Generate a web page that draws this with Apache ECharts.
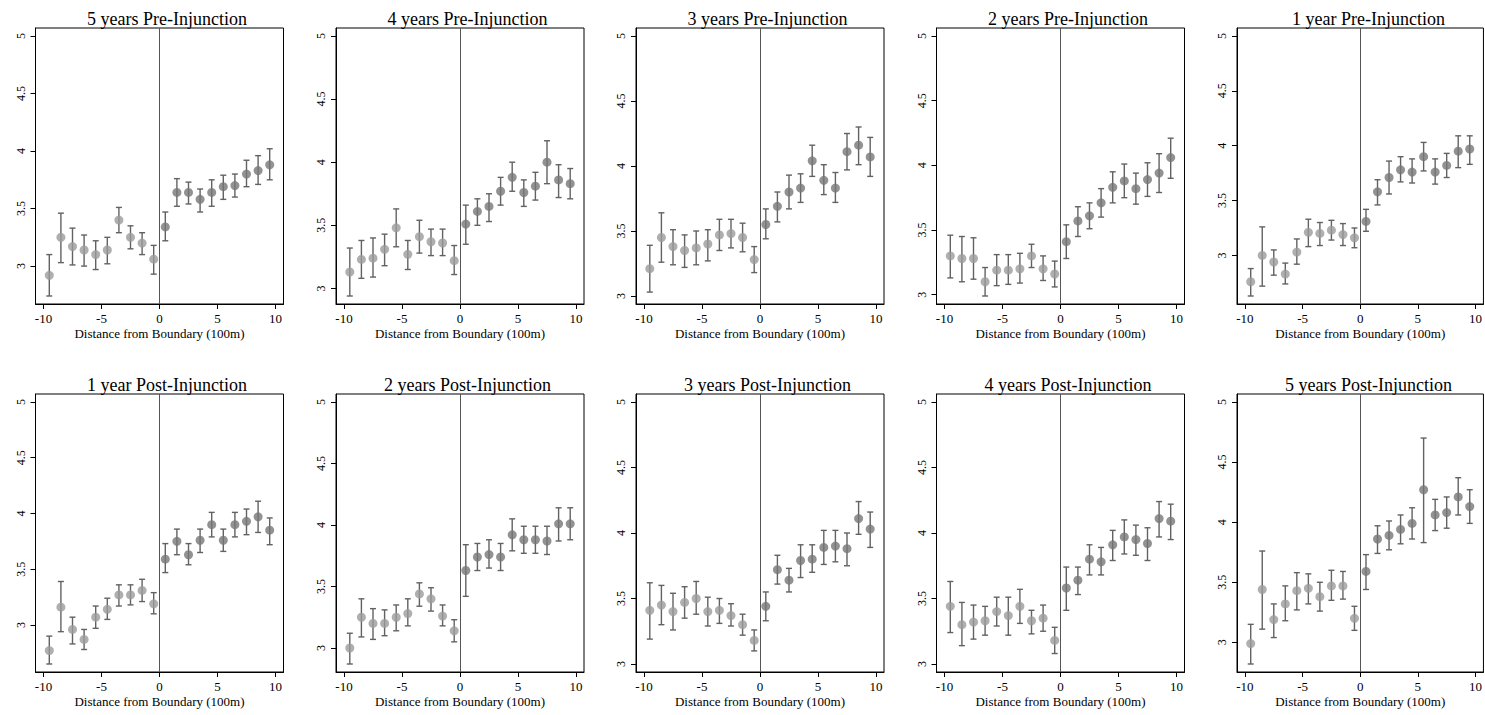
<!DOCTYPE html>
<html>
<head>
<meta charset="utf-8">
<script src="https://cdn.jsdelivr.net/npm/echarts@6/dist/echarts.min.js"></script>
<style>
html,body{margin:0;padding:0;background:#fff;}
#chart{width:1485px;height:715px;}
</style>
</head>
<body>
<div id="chart"></div>
<script>
// ---------- DATA ----------
const distance = [-9.5,-8.5,-7.5,-6.5,-5.5,-4.5,-3.5,-2.5,-1.5,-0.5,0.5,1.5,2.5,3.5,4.5,5.5,6.5,7.5,8.5,9.5];
const xTicks = [-10,-5,0,5,10];
const yTicks = [3,3.5,4,4.5,5];
const panelTitles = ["5 years Pre-Injunction","4 years Pre-Injunction","3 years Pre-Injunction","2 years Pre-Injunction","1 year Pre-Injunction",
  "1 year Post-Injunction","2 years Post-Injunction","3 years Post-Injunction","4 years Post-Injunction","5 years Post-Injunction"];
const xAxisTitle = "Distance from Boundary (100m)";

const pre5Mean = [2.92,3.25,3.17,3.14,3.10,3.14,3.40,3.25,3.20,3.06,3.34,3.64,3.64,3.58,3.64,3.69,3.70,3.80,3.83,3.88];
const pre5Low  = [2.74,3.03,3.01,3.00,2.97,3.02,3.29,3.15,3.10,2.93,3.22,3.52,3.54,3.47,3.52,3.58,3.60,3.69,3.71,3.75];
const pre5High = [3.10,3.46,3.33,3.27,3.22,3.25,3.51,3.35,3.29,3.18,3.47,3.76,3.73,3.67,3.75,3.79,3.80,3.92,3.96,4.02];

const pre4Mean = [3.13,3.23,3.24,3.31,3.48,3.27,3.41,3.37,3.36,3.22,3.51,3.61,3.65,3.77,3.88,3.76,3.81,4.00,3.86,3.83];
const pre4Low  = [2.94,3.08,3.09,3.18,3.33,3.15,3.28,3.26,3.26,3.11,3.35,3.50,3.53,3.66,3.77,3.65,3.70,3.83,3.72,3.71];
const pre4High = [3.32,3.38,3.40,3.43,3.63,3.38,3.54,3.47,3.47,3.34,3.66,3.71,3.75,3.88,4.00,3.86,3.92,4.17,3.98,3.95];

const pre3Mean = [3.21,3.45,3.38,3.35,3.37,3.40,3.47,3.48,3.45,3.28,3.55,3.69,3.80,3.83,4.04,3.89,3.83,4.11,4.16,4.07];
const pre3Low  = [3.03,3.26,3.24,3.22,3.24,3.27,3.35,3.37,3.34,3.18,3.44,3.57,3.67,3.72,3.92,3.78,3.72,3.97,4.01,3.92];
const pre3High = [3.39,3.64,3.51,3.47,3.50,3.51,3.59,3.59,3.56,3.38,3.67,3.80,3.93,3.94,4.16,4.01,3.95,4.25,4.30,4.22];

const pre2Mean = [3.30,3.28,3.28,3.10,3.19,3.19,3.20,3.30,3.20,3.16,3.41,3.57,3.61,3.71,3.83,3.88,3.82,3.89,3.94,4.06];
const pre2Low  = [3.13,3.10,3.12,2.99,3.07,3.08,3.09,3.21,3.11,3.06,3.28,3.45,3.51,3.60,3.71,3.75,3.70,3.76,3.79,3.90];
const pre2High = [3.46,3.45,3.44,3.21,3.31,3.31,3.32,3.39,3.30,3.26,3.54,3.68,3.71,3.82,3.95,4.01,3.94,4.02,4.09,4.21];

const pre1Mean = [2.76,3.00,2.94,2.83,3.03,3.21,3.20,3.23,3.19,3.16,3.31,3.58,3.71,3.78,3.76,3.90,3.76,3.82,3.95,3.97];
const pre1Low  = [2.63,2.72,2.82,2.74,2.92,3.08,3.09,3.14,3.09,3.07,3.22,3.46,3.56,3.67,3.66,3.77,3.65,3.71,3.80,3.83];
const pre1High = [2.88,3.26,3.05,2.93,3.15,3.33,3.30,3.32,3.29,3.25,3.42,3.69,3.86,3.90,3.88,4.03,3.88,3.93,4.09,4.09];

const post1Mean = [2.77,3.16,2.96,2.87,3.07,3.14,3.27,3.27,3.31,3.19,3.59,3.75,3.63,3.76,3.90,3.76,3.90,3.93,3.97,3.85];
const post1Low  = [2.65,2.94,2.83,2.78,2.97,3.05,3.17,3.18,3.21,3.10,3.47,3.63,3.54,3.65,3.79,3.66,3.79,3.81,3.83,3.72];
const post1High = [2.90,3.39,3.07,2.96,3.17,3.24,3.36,3.36,3.41,3.29,3.73,3.86,3.73,3.86,4.01,3.86,4.01,4.04,4.11,3.96];

const post2Mean = [3.00,3.25,3.20,3.20,3.25,3.28,3.44,3.40,3.26,3.14,3.63,3.74,3.76,3.74,3.92,3.88,3.88,3.87,4.01,4.01];
const post2Low  = [2.87,3.09,3.07,3.10,3.14,3.18,3.34,3.30,3.18,3.05,3.42,3.63,3.65,3.63,3.79,3.77,3.77,3.76,3.87,3.88];
const post2High = [3.12,3.40,3.32,3.31,3.35,3.40,3.53,3.49,3.35,3.23,3.84,3.85,3.88,3.85,4.05,3.99,3.99,3.99,4.14,4.14];

const post3Mean = [3.41,3.45,3.40,3.47,3.50,3.40,3.41,3.37,3.30,3.18,3.44,3.72,3.64,3.79,3.80,3.89,3.90,3.88,4.11,4.03];
const post3Low  = [3.19,3.30,3.26,3.35,3.38,3.29,3.31,3.29,3.22,3.10,3.33,3.61,3.55,3.66,3.70,3.76,3.78,3.75,3.99,3.89];
const post3High = [3.62,3.60,3.54,3.59,3.63,3.51,3.50,3.46,3.38,3.26,3.55,3.83,3.73,3.91,3.91,4.02,4.02,4.00,4.24,4.16];

const post4Mean = [3.44,3.30,3.32,3.33,3.40,3.37,3.44,3.33,3.35,3.18,3.58,3.64,3.80,3.78,3.91,3.97,3.95,3.92,4.11,4.09];
const post4Low  = [3.24,3.14,3.19,3.22,3.29,3.22,3.31,3.23,3.25,3.08,3.41,3.53,3.68,3.68,3.79,3.84,3.83,3.79,3.97,3.95];
const post4High = [3.63,3.47,3.45,3.44,3.51,3.51,3.57,3.41,3.45,3.28,3.74,3.74,3.91,3.89,4.02,4.10,4.06,4.04,4.24,4.22];

const post5Mean = [2.99,3.44,3.19,3.32,3.43,3.45,3.38,3.47,3.47,3.20,3.59,3.86,3.89,3.94,3.99,4.27,4.06,4.08,4.21,4.13];
const post5Low  = [2.82,3.11,3.04,3.18,3.27,3.32,3.26,3.35,3.36,3.10,3.44,3.74,3.77,3.82,3.86,3.83,3.93,3.95,4.06,3.99];
const post5High = [3.15,3.76,3.32,3.47,3.58,3.57,3.50,3.60,3.59,3.30,3.73,3.97,4.01,4.06,4.12,4.70,4.19,4.21,4.37,4.27];

// ---------- LAYOUT ----------
const panels = [
  [pre5Mean, pre5Low, pre5High], [pre4Mean, pre4Low, pre4High], [pre3Mean, pre3Low, pre3High],
  [pre2Mean, pre2Low, pre2High], [pre1Mean, pre1Low, pre1High],
  [post1Mean, post1Low, post1High], [post2Mean, post2Low, post2High], [post3Mean, post3Low, post3High],
  [post4Mean, post4Low, post4High], [post5Mean, post5Low, post5High]
];
const colLeft = [35.5, 336, 636, 936.5, 1237];
const gridW = 248;
const rowTop = [28, 394];
const rowH = [276, 278];
const PAD = 8; // plot region margin, px

const FONT = "'Liberation Serif', 'Times New Roman', serif";
const leftDot = '#9b9b9b', rightDot = '#777777', barColor = '#626262';

const grids = [], xAxes = [], yAxes = [], series = [], titles = [];

panels.forEach((p, i) => {
  const [mean, low, high] = p;
  const row = Math.floor(i / 5), col = i % 5;
  const left = colLeft[col], top = rowTop[row], h = rowH[row];
  grids.push({left: left, top: top, width: gridW, height: h, show: true,
    borderColor: '#000', borderWidth: 1, backgroundColor: 'transparent', containLabel: false});
  // axis range: data extent plus fixed pixel margin
  const xPad = PAD * 20 / (gridW - 2 * PAD);
  const lo = Math.min(Math.min(...low), 3);
  const yPad = PAD * (5 - lo) / (h - 2 * PAD);
  xAxes.push({type: 'value', gridIndex: i, min: -10 - xPad, max: 10 + xPad,
    axisLine: {show: true, onZero: false, lineStyle: {color: '#000', width: 1}},
    axisTick: {show: true, length: 5, customValues: xTicks, lineStyle: {color: '#000'}},
    axisLabel: {show: true, customValues: xTicks, margin: 8, color: '#000', fontFamily: FONT, fontSize: 13},
    splitLine: {show: false},
    name: xAxisTitle, nameLocation: 'middle', nameGap: 23,
    nameTextStyle: {color: '#000', fontFamily: FONT, fontSize: 13}});
  yAxes.push({type: 'value', gridIndex: i, min: lo - yPad, max: 5 + yPad,
    axisLine: {show: true, onZero: false, lineStyle: {color: '#000', width: 1}},
    axisTick: {show: true, length: 5, customValues: yTicks, lineStyle: {color: '#000'}},
    axisLabel: {show: true, customValues: yTicks, rotate: 90, margin: 9, color: '#000', fontFamily: FONT, fontSize: 12},
    splitLine: {show: false}});
  titles.push({text: panelTitles[i], left: left + gridW / 2 + 2.5, top: top - 23, textAlign: 'center',
    textStyle: {fontFamily: FONT, fontSize: 18, fontWeight: 'normal', color: '#000'}});

  const bars = distance.map((d, k) => [d, low[k], high[k]]);
  series.push({type: 'custom', xAxisIndex: i, yAxisIndex: i, data: bars, encode: {x: 0, y: [1, 2]},
    silent: true, z: 2,
    renderItem: function (params, api) {
      const x = api.value(0);
      const t = api.coord([x, api.value(2)]);
      const b = api.coord([x, api.value(1)]);
      const cap = 3;
      const st = {stroke: barColor, lineWidth: 1.4, fill: null};
      return {type: 'group', children: [
        {type: 'line', shape: {x1: t[0], y1: t[1], x2: b[0], y2: b[1]}, style: st},
        {type: 'line', shape: {x1: t[0] - cap, y1: t[1], x2: t[0] + cap, y2: t[1]}, style: st},
        {type: 'line', shape: {x1: b[0] - cap, y1: b[1], x2: b[0] + cap, y2: b[1]}, style: st}
      ]};
    }});
  const leftPts = [], rightPts = [];
  distance.forEach((d, k) => { (d < 0 ? leftPts : rightPts).push([d, mean[k]]); });
  series.push({type: 'scatter', xAxisIndex: i, yAxisIndex: i, data: leftPts, symbol: 'circle', symbolSize: 9,
    itemStyle: {color: leftDot}, z: 3, silent: true,
    markLine: {silent: true, symbol: ['none', 'none'], label: {show: false},
      lineStyle: {color: '#555', width: 1, type: 'solid'}, data: [{xAxis: 0}], animation: false}});
  series.push({type: 'scatter', xAxisIndex: i, yAxisIndex: i, data: rightPts, symbol: 'circle', symbolSize: 9,
    itemStyle: {color: rightDot}, z: 3, silent: true});
});

const chart = echarts.init(document.getElementById('chart'), null, {renderer: 'svg'});
chart.setOption({
  animation: false,
  backgroundColor: '#fff',
  title: titles,
  grid: grids,
  xAxis: xAxes,
  yAxis: yAxes,
  series: series
});
</script>
</body>
</html>
